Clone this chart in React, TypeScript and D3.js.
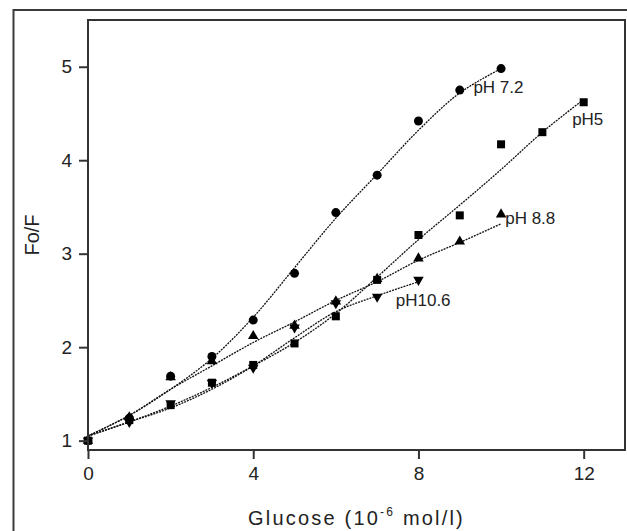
import React, { useEffect, useRef } from 'react';
import * as d3 from 'd3';

// measured points, glucose 0..n (10^-6 mol/l)
const ph72 = [1.0, 1.24, 1.69, 1.9, 2.29, 2.79, 3.44, 3.84, 4.42, 4.75, 4.98];
const ph5 = [1.0, 1.22, 1.38, 1.62, 1.81, 2.04, 2.33, 2.72, 3.2, 3.41, 4.17, 4.3, 4.62];
const ph88 = [1.0, 1.25, 1.68, 1.85, 2.12, 2.23, 2.49, 2.73, 2.95, 3.13, 3.42];
const ph106 = [1.0, 1.2, 1.4, 1.62, 1.78, 2.21, 2.47, 2.54, 2.72];

// fitted curves
const fit72 = [1.05, 1.27, 1.55, 1.88, 2.32, 2.85, 3.38, 3.85, 4.32, 4.72, 4.98];
const fit5 = [1.05, 1.2, 1.37, 1.57, 1.8, 2.05, 2.36, 2.75, 3.15, 3.52, 3.9, 4.3, 4.65];
const fit88 = [1.05, 1.27, 1.55, 1.8, 2.05, 2.27, 2.5, 2.7, 2.93, 3.12, 3.32];
const fit106 = [1.05, 1.2, 1.35, 1.55, 1.8, 2.1, 2.38, 2.55, 2.7];

const xTicks = [0, 4, 8, 12];
const yTicks = [1, 2, 3, 4, 5];

const seriesLabels = [
  { text: 'pH 7.2', at: [9.33, 4.78] },
  { text: 'pH5', at: [11.72, 4.44] },
  { text: 'pH 8.8', at: [10.1, 3.38] },
  { text: 'pH10.6', at: [7.45, 2.5] },
];

const App = () => {
  const svgRef = useRef<SVGSVGElement>(null);

  useEffect(() => {
    const svg = d3.select(svgRef.current);
    svg.selectAll('*').remove();

    const left = 88, right = 625, top = 20, bottom = 450;
    const x = d3.scaleLinear().domain([0, 13]).range([left, right]);
    const y = d3.scaleLinear().domain([0.9, 5.5]).range([bottom, top]);
    const font = '"Liberation Sans", Arial, sans-serif';

    // outer frame
    svg.append('rect')
      .attr('x', 13.5).attr('y', 10)
      .attr('width', 640).attr('height', 540)
      .attr('fill', 'none').attr('stroke', '#3a3a3a').attr('stroke-width', 2);

    const line = d3.line<number>()
      .x((d, i) => x(i))
      .y(d => y(d))
      .curve(d3.curveCatmullRom);

    [fit72, fit5, fit88, fit106].forEach(f => {
      svg.append('path')
        .attr('d', line(f))
        .attr('fill', 'none')
        .attr('stroke', '#111')
        .attr('stroke-width', 1.3)
        .attr('stroke-dasharray', '2 1');
    });

    // markers
    svg.append('g').selectAll('circle').data(ph72).join('circle')
      .attr('cx', (d, i) => x(i)).attr('cy', d => y(d)).attr('r', 4.5).attr('fill', '#000');

    svg.append('g').selectAll('rect').data(ph5).join('rect')
      .attr('x', (d, i) => x(i) - 4).attr('y', d => y(d) - 4)
      .attr('width', 8).attr('height', 8).attr('fill', '#000');

    const tri = d3.symbol().type(d3.symbolTriangle).size(48);
    svg.append('g').selectAll('path').data(ph88).join('path')
      .attr('d', tri())
      .attr('transform', (d, i) => `translate(${x(i)},${y(d)})`)
      .attr('fill', '#000');

    svg.append('g').selectAll('path').data(ph106).join('path')
      .attr('d', tri())
      .attr('transform', (d, i) => `translate(${x(i)},${y(d)}) rotate(180)`)
      .attr('fill', '#000');

    // series labels
    svg.append('g').selectAll('text').data(seriesLabels).join('text')
      .attr('x', d => x(d.at[0]))
      .attr('y', d => y(d.at[1]))
      .attr('dy', '0.35em')
      .attr('font-family', font)
      .attr('font-size', 17)
      .attr('fill', '#222')
      .text(d => d.text);

    // plot frame
    svg.append('rect')
      .attr('x', left).attr('y', top)
      .attr('width', right - left).attr('height', bottom - top)
      .attr('fill', 'none').attr('stroke', '#333').attr('stroke-width', 2);

    // axes
    const xAxis = svg.append('g')
      .attr('transform', `translate(0,${bottom})`)
      .call(d3.axisBottom(x).tickValues(xTicks).tickSize(9).tickPadding(8).tickFormat(d3.format('d')));
    xAxis.select('.domain').remove();

    const yAxis = svg.append('g')
      .attr('transform', `translate(${left},0)`)
      .call(d3.axisLeft(y).tickValues(yTicks).tickSize(9).tickPadding(7).tickFormat(d3.format('d')));
    yAxis.select('.domain').remove();

    [xAxis, yAxis].forEach(a => {
      a.selectAll('line').attr('stroke', '#333').attr('stroke-width', 2);
      a.selectAll('text')
        .attr('font-family', font)
        .attr('font-size', 19)
        .attr('fill', '#222');
    });

    // axis titles
    const xt = svg.append('text')
      .attr('x', (left + right) / 2)
      .attr('y', 525)
      .attr('text-anchor', 'middle')
      .attr('font-family', font)
      .attr('font-size', 20)
      .attr('letter-spacing', 2.2)
      .attr('fill', '#222');
    xt.append('tspan').text('Glucose (10');
    xt.append('tspan').attr('font-size', 12).attr('dy', -9).text('-6');
    xt.append('tspan').attr('dy', 9).text(' mol/l)');

    svg.append('text')
      .attr('transform', `translate(39,${(top + bottom) / 2}) rotate(-90)`)
      .attr('text-anchor', 'middle')
      .attr('font-family', font)
      .attr('font-size', 20)
      .attr('fill', '#222')
      .text('Fo/F');
  }, []);

  return (
    <svg
      ref={svgRef}
      width={627}
      height={531}
      style={{ position: 'absolute', left: 0, top: 0, background: '#fff' }}
    />
  );
};

export default App;
